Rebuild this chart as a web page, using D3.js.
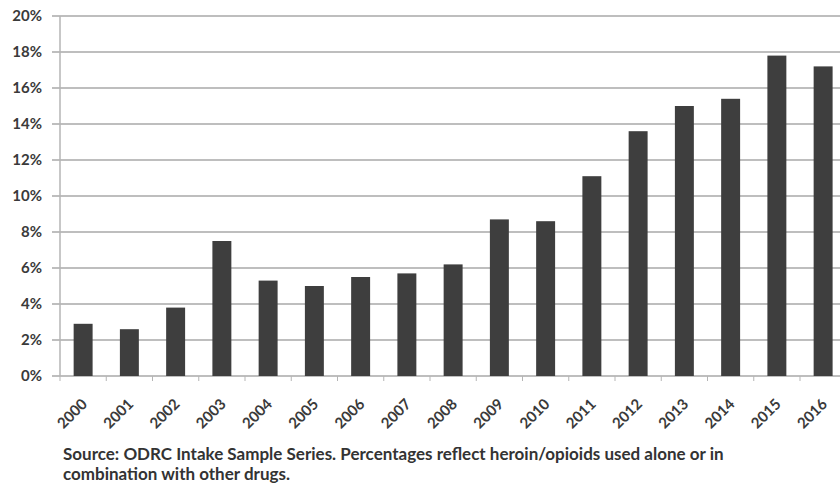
<!DOCTYPE html>
<html>
<head>
<meta charset="utf-8">
<script src="https://cdn.jsdelivr.net/npm/d3@7"></script>
<style>
  body { margin: 0; background: #fff; }
  svg { display: block; font-family: Lato, "Open Sans", sans-serif; }
  .grid line { stroke: #a8a8a8; stroke-width: 1.5; }
  .axis-label { fill: #3a3a3a; font-weight: bold; }
  .note { fill: #333; font-size: 17px; font-weight: bold; }
</style>
</head>
<body>
<div id="chart"></div>
<script>
// heroin/opioid use share by year
var years = ["2000", "2001", "2002", "2003", "2004", "2005", "2006", "2007", "2008",
             "2009", "2010", "2011", "2012", "2013", "2014", "2015", "2016"];
var shares = [2.9, 2.6, 3.8, 7.5, 5.3, 5.0, 5.5, 5.7, 6.2,
              8.7, 8.6, 11.1, 13.6, 15.0, 15.4, 17.8, 17.2];
var yTicks = [0, 2, 4, 6, 8, 10, 12, 14, 16, 18, 20];
var noteLines = [
    "Source: ODRC Intake Sample Series. Percentages reflect heroin/opioids used alone or in",
    "combination with other drugs."
];

var data = years.map(function(y, i) { return { year: y, value: shares[i] }; });

var W = 840, H = 486;
var margin = { top: 16, left: 60, bottom: 110 };
var plotH = H - margin.top - margin.bottom;   // 0% sits at y = 376

var svg = d3.select("#chart").append("svg")
    .attr("width", W)
    .attr("height", H);

var g = svg.append("g")
    .attr("transform", "translate(" + margin.left + "," + margin.top + ")");

var x = d3.scaleBand()
    .domain(years)
    .range([0, 17 * 46.25])
    .paddingInner(0.59)
    .paddingOuter(0.295);

var y = d3.scaleLinear()
    .domain([0, 20])
    .range([plotH, 0]);

// horizontal grid lines, with little ticks poking out left of the axis
g.append("g")
    .attr("class", "grid")
    .selectAll("line")
    .data(yTicks)
    .enter()
    .append("line")
    .attr("x1", -8)
    .attr("x2", W)
    .attr("y1", function(d) { return y(d); })
    .attr("y2", function(d) { return y(d); });

// vertical axis line
g.append("line")
    .attr("x1", 0).attr("x2", 0)
    .attr("y1", 0).attr("y2", plotH)
    .attr("stroke", "#b5b5b5")
    .attr("stroke-width", 1.5);

// small category ticks under the x axis
g.selectAll(".xtick")
    .data(years)
    .enter()
    .append("line")
    .attr("class", "xtick")
    .attr("x1", function(d) { return x(d) - x.step() * x.paddingInner() / 2; })
    .attr("x2", function(d) { return x(d) - x.step() * x.paddingInner() / 2; })
    .attr("y1", plotH)
    .attr("y2", plotH + 5)
    .attr("stroke", "#b5b5b5")
    .attr("stroke-width", 1);

g.selectAll(".bar")
    .data(data)
    .enter()
    .append("rect")
    .attr("class", "bar")
    .attr("x", function(d) { return x(d.year); })
    .attr("width", x.bandwidth())
    .attr("y", function(d) { return y(d.value); })
    .attr("height", function(d) { return plotH - y(d.value); })
    .attr("fill", "#3e3e3e");

// y labels
g.selectAll(".ylab")
    .data(yTicks)
    .enter()
    .append("text")
    .attr("class", "axis-label")
    .attr("x", -18)
    .attr("y", function(d) { return y(d); })
    .attr("dy", "0.35em")
    .attr("text-anchor", "end")
    .style("font-size", "15px")
    .text(function(d) { return d + "%"; });

// rotated year labels
g.selectAll(".xlab")
    .data(years)
    .enter()
    .append("text")
    .attr("class", "axis-label")
    .attr("text-anchor", "end")
    .style("font-size", "15px")
    .attr("transform", function(d) {
        return "translate(" + (x(d) + x.bandwidth() / 2 + 5) + "," + (plotH + 29) + ") rotate(-45)";
    })
    .text(function(d) { return d; });

svg.selectAll(".note")
    .data(noteLines)
    .enter()
    .append("text")
    .attr("class", "note")
    .attr("x", 63)
    .attr("y", function(d, i) { return 460 + i * 20; })
    .text(function(d) { return d; });
</script>
</body>
</html>
